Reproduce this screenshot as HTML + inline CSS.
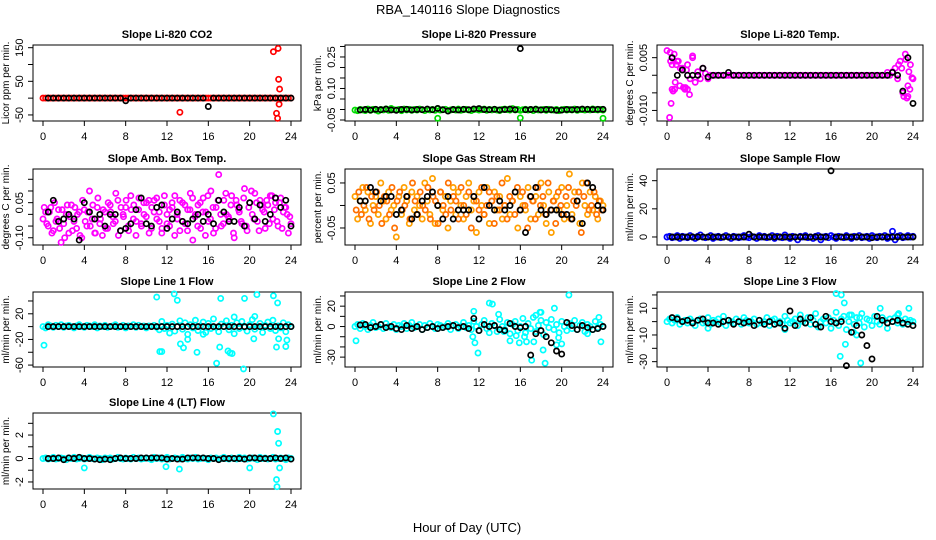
<!DOCTYPE html>
<html><head><meta charset="utf-8">
<style>
html,body{margin:0;padding:0;background:#fff;}
svg{display:block;font-family:"Liberation Sans",sans-serif;}
</style></head>
<body>
<svg id="chart" width="936" height="540" viewBox="0 0 936 540">
<text x="468" y="14" text-anchor="middle" font-size="13">RBA_140116  Slope Diagnostics</text>
<text x="467" y="532" text-anchor="middle" font-size="13">Hour of Day (UTC)</text>
</svg>
<script>
// ---------- data ----------
const xTicks = [0,4,8,12,16,20,24];
// CO2
const co2Red = Array(97).fill(0);
const co2RedOutX = [13.25,22.3,22.75,22.8,22.9,22.85,22.6,22.7];
const co2RedOutY = [-42,138,148,56,27,-18,-45,-60];
const co2Black = [0,0,0,0,0,0,0,0,0,0,0,0,0,0,0,-8,0,0,0,0,0,0,0,0,0,0,0,0,0,0,0,-25,0,0,0,0,0,0,0,0,0,0,0,0,0,0,0,0];
// Pressure
const presGreen = [-0.003,-0.006,0.000,-0.002,-0.005,0.002,-0.004,0.001,-0.003,-0.007,0.000,-0.002,0.003,-0.004,0.005,-0.001,-0.003,0.000,-0.006,0.002,-0.002,0.001,-0.004,0.000,-0.003,0.002,-0.001,-0.005,0.001,-0.002,0.000,-0.004,0.004,-0.003,-0.001,0.001,-0.006,-0.002,0.000,-0.003,0.002,-0.004,-0.001,0.001,-0.002,-0.005,0.000,0.001,-0.003,-0.001,0.002,-0.004,0.000,-0.002,0.001,-0.003,-0.005,0.000,0.002,-0.001,-0.003,0.004,-0.002,0.000,-0.004,-0.001,0.001,-0.003,0.000,-0.005,0.002,-0.002,-0.001,0.000,-0.004,0.001,-0.002,-0.003,0.000,-0.006,-0.001,0.001,-0.003,0.000,-0.002,0.002,-0.004,-0.001,0.000,-0.003,0.001,-0.002,0.003,-0.001,-0.002,0.000,-0.003];
const presGreenOutX = [8,16,24];
const presGreenOutY = [-0.042,-0.040,-0.042];
const presBlack = [-0.002,0.000,-0.003,0.001,-0.001,0.002,-0.002,-0.004,0.000,0.001,-0.002,0.000,-0.001,0.002,-0.001,0.005,-0.001,-0.007,0.000,-0.002,0.001,-0.001,0.003,0.004,0.000,-0.001,0.001,-0.002,0.000,0.002,-0.001,0.29,-0.001,0.000,0.001,-0.002,0.000,-0.001,-0.004,-0.003,0.000,-0.001,0.000,0.002,0.001,0.000,0.001,0.001];
// Li-820 temp
const tempMag = [0.007,-0.012,0.003,-0.004,0.004,-0.003,0.002,-0.004,0.003,-0.001,0.005,-0.002,0.001,-0.001,0.002,0.0005,-0.001,
0,0,0,0,0,0,0,0,0,0,0,0,0,0,0,0,0,0,0,0,0,0,0,0,0,0,0,0,0,0,0,0,0,0,0,0,0,0,0,0,0,0,0,0,0,0,0,0,0,0,0,0,0,0,0,0,0,0,0,0,0,0,0,0,0,0,0,0,0,0,0,
0.001,0.002,-0.001,0.004,-0.005,0.006,-0.006,0.003,-0.001];
const tempMagOutX = [0.3,0.4,0.5,0.7,0.9,1.1,1.3,1.6,1.8,2.0,2.2,2.5,0.35,0.6,22.6,22.9,23.1,23.4,23.6,23.7,23.3,23.5,0.8,1.9,21.5,23.9];
const tempMagOutY = [0.0065,-0.008,-0.004,0.006,0.003,0.004,0.002,-0.0035,-0.0035,-0.004,-0.0055,0.0055,0.004,-0.0045,0.003,0.002,-0.006,-0.0065,0.001,-0.004,0.0045,-0.003,-0.002,0.0015,0.0008,-0.0007];
const tempBlack = [0.005,0,0.0015,0,0,0,0.002,-0.0005,0,0,0,0.0008,0,0,0,0,0,0,0,0,0,0,0,0,0,0,0,0,0,0,0,0,0,0,0,0,0,0,0,0,0,0,0,0.0008,0,-0.0045,0.005,-0.008];
// Amb box temp
const ambMagA = [-0.02,0.01,-0.05,0.03,-0.07,-0.03,0.02,-0.12,-0.04,0.00,-0.08,0.04,-0.03,-0.06,0.01,-0.10,0.02,-0.05,0.10,-0.02,-0.08,0.03,-0.04,-0.09,0.01,-0.06,0.04,-0.01,-0.03,0.06,-0.07,0.00,0.03,-0.05,0.08,-0.02,-0.09,0.02,-0.04,0.05,-0.01,0.06,-0.06,0.01,0.07,-0.03,-0.08,0.04,0.00,-0.05,0.03,0.08,-0.02,-0.07,0.05,-0.04,0.02,0.09,-0.11,0.00,0.04,-0.06,0.07,0.01,-0.03,0.10,-0.08,0.03,0.17,-0.05,0.06,0.00,-0.02,0.08,-0.10,0.04,0.01,-0.04,0.11,-0.07,0.05,0.00,0.09,-0.03,0.06,0.02,-0.06,0.04,0.08,-0.02,0.05,-0.05,0.07,0.01,0.03,-0.08,-0.04];
const ambMagB = [0.03,-0.04,0.01,-0.08,0.05,-0.02,-0.06,0.02,-0.10,0.04,-0.01,-0.07,0.03,0.00,-0.09,0.06,-0.03,0.01,-0.05,0.04,-0.08,0.07,-0.02,0.02,-0.06,0.05,0.01,-0.04,0.09,-0.09,0.03,-0.01,0.06,-0.07,0.02,0.04,-0.03,0.07,-0.05,0.00,0.05,-0.08,0.03,0.06,-0.02,0.01,-0.06,0.08,-0.04,0.02,0.05,-0.09,0.00,0.06,-0.03,0.04,-0.07,0.02,0.07,-0.01,-0.05,0.05,0.01,-0.09,0.08,-0.02,0.03,-0.06,0.06,0.00,-0.04,0.09,-0.01,0.04,-0.08,0.06,0.02,-0.03,0.07,-0.05,0.03,0.10,-0.02,0.05,-0.07,0.04,0.01,0.06,-0.04,0.08,0.02,-0.03,0.05,-0.06,0.03,0.00,-0.01];
const ambBlack = [0.01,0.06,-0.03,-0.02,0.00,-0.02,-0.11,0.05,0.01,-0.02,0.00,-0.05,0.00,0.00,-0.07,-0.06,-0.04,0.02,0.07,-0.04,-0.05,0.03,0.04,-0.06,-0.02,0.01,-0.03,-0.04,-0.02,0.00,-0.03,0.00,-0.04,0.06,0.01,-0.03,-0.03,0.03,-0.05,0.05,-0.02,0.04,-0.03,0.00,0.07,0.03,0.06,-0.05];
// Gas stream RH
const rhOrA = [0.02,-0.03,0.01,0.04,-0.01,0.03,-0.04,0.00,0.02,-0.02,0.05,0.01,-0.03,0.03,-0.01,0.00,-0.07,0.02,-0.02,0.04,0.01,-0.04,0.03,-0.01,0.02,0.00,-0.03,0.05,0.01,-0.02,0.06,-0.04,0.00,0.03,-0.01,0.02,-0.05,0.01,0.04,-0.02,0.03,0.00,-0.03,0.02,0.05,-0.01,0.01,-0.06,0.03,0.00,-0.02,0.04,-0.04,0.01,0.03,-0.01,0.02,-0.03,0.00,0.06,-0.02,0.01,0.03,-0.05,0.02,0.00,-0.01,0.04,-0.03,0.01,0.02,-0.02,0.05,0.00,-0.04,0.03,-0.06,0.01,0.02,-0.01,0.04,-0.03,0.00,0.07,-0.02,0.03,0.01,-0.04,0.05,0.00,-0.02,0.03,-0.01,0.02,-0.03,0.01,0.00];
const rhOrB = [-0.01,0.03,-0.02,0.00,0.04,-0.03,0.02,-0.01,0.03,0.00,-0.04,0.02,0.01,-0.02,0.04,-0.05,0.01,0.03,-0.01,0.00,0.02,-0.03,0.05,0.01,-0.02,0.03,0.00,-0.01,0.04,-0.03,0.02,0.01,-0.04,0.03,0.00,-0.02,0.05,-0.01,0.02,0.01,-0.03,0.04,0.00,-0.02,0.03,-0.05,0.02,0.01,-0.01,0.04,-0.02,0.00,0.03,0.01,-0.04,0.02,-0.01,0.05,0.00,-0.03,0.02,0.01,-0.02,0.04,-0.01,0.03,0.00,-0.05,0.02,0.01,-0.03,0.04,0.00,0.02,-0.02,0.05,-0.01,0.01,-0.04,0.03,0.00,-0.02,0.02,0.04,-0.03,0.01,0.00,0.03,-0.06,0.02,0.05,-0.01,0.00,0.03,-0.02,0.01,-0.01];
const rhBlack = [0.01,0.01,0.04,0.03,0.01,0.02,0.02,-0.02,-0.01,0.02,-0.03,-0.02,0.01,0.02,0.03,0.00,-0.03,0.02,-0.03,-0.01,-0.01,-0.01,0.02,-0.03,0.04,0.00,-0.01,0.01,-0.01,0.00,0.03,-0.01,-0.06,0.02,0.04,-0.01,-0.02,-0.01,-0.01,-0.02,-0.02,-0.03,0.01,-0.04,0.05,0.04,0.00,-0.01];
// Sample flow
const sampBlue = [0,0.5,-0.5,0,1,-1,0.5,0,-0.5,1,0,-1,0.5,1.5,0,-0.5,0,1,-1,0,0.5,-0.5,0,1,0,-1,0.5,0,-0.5,0,1,0,-0.5,0.5,0,-1,1,0,0.5,-0.5,0,1,-1,0.5,0,-0.5,1.5,0,-1,0.5,0,-2,0.5,0,1,-0.5,0,-1,0.5,1,-2,0,0.5,-0.5,1,0,-1,0.5,0,-0.5,1,0,-1,0.5,0,1,-0.5,0,0.5,-1,1,0,-0.5,0.5,0,1,-1,0,4,-2,0.5,1,-0.5,0,1,0,0.5];
const sampBlack = [0,0,0,0,0,0,0,0,0,0,0,0,0,0,0,2,0,0,0,0,0,0,0,0,0,0,0,0,0,0,0,47,0,0,0,0,0,0,0,-0.5,0,0,0,0,0,0,0,0];
// Line 1
const l1Cyan = [0,-2,3,1,-1,2,0,3,-1,1,2,0,-2,1,3,0,-1,2,1,0,3,-2,1,0,2,-1,0,1,3,-1,0,2,-2,1,0,3,-1,2,0,1,-2,1,0,2,-1,
-5,8,-3,2,-10,4,-7,0,9,-4,6,-12,3,-2,10,-6,1,7,-9,5,-3,12,-1,-8,4,0,9,-5,2,-11,6,-3,8,-1,-7,3,11,-4,0,5,-9,2,7,-3,10,-6,1,-2,6,-8,3,0];
const l1CyanOutX = [0.1,11,11.3,11.5,12.7,13,13.3,13.6,14.9,16.8,17.2,17.1,17.9,18.1,18.3,19.4,19.6,19.5,20.5,20.7,20.4,22.3,22.7,22.8,23.5,23.6,22.6,14,15.5,18.5];
const l1CyanOutY = [-29,46,-39,-39,51,41,-27,-33,-40,-57,44,-32,-38,-41,-42,-66,-73,44,16,50,-19,48,37,-19,-31,-21,-32,-20,-12,15];
const l1Black = Array(48).fill(0);
// Line 2
const l2Cyan = [0,2,-2,3,0,-3,1,4,-1,0,2,-2,3,0,-1,2,-3,1,0,3,-2,1,4,-1,0,2,-3,1,-1,3,0,-2,2,1,-1,0,3,-3,1,2,-2,0,4,-1,1,-3,5,0,-4,2,6,-2,-6,3,1,-5,7,0,-3,4,-7,2,5,-4,0,8,-6,3,-2,9,-5,1,6,-8,4,-1,7,-3,2,-6,5,0,-4,3,-2,6,-3,1,4,-5,2,0,-3,5,-1,2,0];
const l2CyanOutX = [0.1,11.5,11.4,11.6,11.9,13,13.3,15,15.6,15.9,16.4,16.6,17.1,17.3,17.5,18,18.2,18.4,19.3,19.5,19.7,20,20.7,22.5,23.6,23.8,17.9,14.4,13.9];
const l2CyanOutY = [-14,15,-10,-16,-26,23,22,-14,-9,-16,-10,-15,-33,-15,11,14,-23,-36,18,-18,-11,-17,31,-7,9,-15,14,-5,12];
const l2Black = [1.5,2,-1,0,2,-1,0,-2,-3,1,-2,0,-3,-1,0,-2,-1,0,1,-1,0,-2,8,-4,2,0,1,-3,-4,3,0,-1,0,-28,-7,-4,-10,-16,-24,-27,4,1,-3,1,-1,-3,-2,0];
// Line 3
const l3Cyan = [0,2,-1,1,3,-2,0,1,-1,2,0,-3,1,2,-1,0,3,-2,1,0,2,-1,4,-3,1,0,-1,2,0,-2,3,1,-1,0,2,-2,1,-1,0,3,-3,1,2,-1,0,-2,4,1,-1,0,2,-3,5,0,-1,3,-2,1,6,-4,0,2,-1,3,-5,1,7,-3,2,4,-6,0,5,-2,3,-1,6,-4,2,1,-3,4,0,-2,3,1,-5,2,0,3,-1,1,-2,2,0,1,0];
const l3CyanOutX = [16.5,17.0,17.3,17.4,16.9,18.9,18.5,20.8,22.6,23.6,22.5,4,17.8,18.2,18.8,11.5];
const l3CyanOutY = [21,20,14,-17,-26,-31,-10,10,6,10,5,-5,5,-8,3,-6];
const l3Black = [3,2,0,1,-1,1,2,-1,-1,-2,0,1,-2,0,-1,0,-3,1,-2,0,-2,-1,-5,8,-3,2,-1,3,-2,-4,4,0,-1,0,-33,-8,-3,-10,-18,-28,4,1,-1,0,1,-1,-2,-3];
// Line 4
const l4Cyan = [0,0.05,-0.05,0,0.1,-0.05,0,0.05,0,-0.1,0.05,0,0.1,-0.05,0,0.05,-0.05,0,0.1,0,-0.05,0.05,0,-0.1,0.05,0,0.05,-0.05,0,0.1,0,-0.05,0.05,0,-0.05,0.1,0,0.05,-0.05,0,0.05,0,-0.1,0.1,0,0.05,-0.05,0,0.1,-0.05,0,0.05,0,-0.05,0.1,0,-0.05,0.05,0,0.1,-0.05,0,0.05,0,-0.1,0.05,0,0.05,-0.05,0,0.1,0,-0.05,0.05,0,-0.05,0.1,0,0.05,-0.05,0,0.05,0,-0.1,0.1,0,0.05,-0.05,0,0.1,-0.05,0,0.05,0,-0.1,0.05,0];
const l4CyanOutX = [4,11.9,13.2,20,22.3,22.7,22.8,22.9,22.6,22.65];
const l4CyanOutY = [-0.8,-0.7,-0.9,-0.8,3.8,2.3,1.3,-0.8,-1.8,-2.4];
const l4Black = [0,0,0.05,-0.1,0.05,0,0.1,0,0,-0.05,-0.1,-0.05,-0.1,0,0.05,0,0,0,0.05,0.05,0.05,0.05,0.05,-0.05,0,-0.05,-0.05,0.05,0.05,0.05,0.05,0,0,-0.1,0,0,0,0,-0.05,0.05,0.05,0,0,0,0.05,0,0.05,-0.05];

// ---------- layout ----------
const NS = "http://www.w3.org/2000/svg";
const svg = document.getElementById("chart");
const cols = [{x0:43,x24:291,l:33,r:301,ax:9,tx:23},{x0:355,x24:603,l:345,r:613,ax:321,tx:335},{x0:667,x24:913,l:657,r:923,ax:633,tx:647}];
const rows = [{t:45,b:121},{t:169,b:245},{t:292,b:367},{t:413,b:489}];

function mk(tag, attrs, parent){const e=document.createElementNS(NS,tag);for(const k in attrs)e.setAttribute(k,attrs[k]);(parent||svg).appendChild(e);return e;}
function gridX(n,a,b){const o=[];for(let i=0;i<n;i++)o.push(a+(b-a)*i/(n-1));return o;}

function panel(ci,ri,opt){
  const c=cols[ci], r=rows[ri];
  const g=mk("g",{});
  
  
  const xs=v=>c.x0+(c.x24-c.x0)*v/24;
  const ys=v=>r.b-(v-opt.ymin)/(opt.ymax-opt.ymin)*(r.b-r.t);
  const box=mk("rect",{x:c.l,y:r.t,width:c.r-c.l,height:r.b-r.t,fill:"none",stroke:"#000","stroke-width":1},g);
  
  
  const tt=mk("text",{x:(c.l+c.r)/2,y:r.t-7,"text-anchor":"middle","font-size":"11","font-weight":"bold"},g);
  tt.textContent=opt.title;
  
  
  const xa=mk("line",{x1:xs(0),x2:xs(24),y1:r.b,y2:r.b,stroke:"#000"},g);
  
  
  xTicks.forEach(v=>{
    mk("line",{x1:xs(v),x2:xs(v),y1:r.b,y2:r.b+5,stroke:"#000"},g);
    const t=mk("text",{x:xs(v),y:r.b+19,"text-anchor":"middle","font-size":"11"},g);
    t.textContent=v;
    
    
  });
  const yt=opt.ticks;
  const ya=mk("line",{x1:c.l,x2:c.l,y1:ys(yt[0]),y2:ys(yt[yt.length-1]),stroke:"#000"},g);
  
  
  yt.forEach(v=>{
    mk("line",{x1:c.l-5,x2:c.l,y1:ys(v),y2:ys(v),stroke:"#000"},g);
  });
  opt.labels.forEach((lab,i)=>{
    const y=ys(opt.labelVals[i]);
    const t=mk("text",{x:c.tx,y:y,"text-anchor":"middle","font-size":"11",transform:`rotate(-90 ${c.tx} ${y})`},g);
    t.textContent=lab;
    
    
  });
  const ymid=(r.t+r.b)/2;
  const at=mk("text",{x:c.ax,y:ymid,"text-anchor":"middle","font-size":"10",transform:`rotate(-90 ${c.ax} ${ymid})`},g);
  at.textContent=opt.ytitle;
  
  
  opt.series.forEach(s=>{
    const sg=mk("g",{fill:"none",stroke:s.color,"stroke-width":1.7},g);
    
    
    s.y.forEach((v,i)=>{
      const cy=ys(v); if(cy<r.t-3||cy>r.b+3) return;
      const p=mk("circle",{cx:xs(s.x[i]).toFixed(1),cy:cy.toFixed(1),r:2.6},sg);
      
      
    });
  });
}
const bx=gridX(48,0.5,24), gx97=gridX(97,0,24), gx97b=gridX(97,0.12,23.88);

panel(0,0,{name:"co2",title:"Slope Li-820 CO2",ytitle:"Licor ppm per min.",ymin:-68,ymax:158,ticks:[-50,0,50,100,150],labels:["-50","50","150"],labelVals:[-50,50,150],
 series:[{name:"red-series",color:"#ff0000",x:gx97,y:co2Red},{name:"red-outliers",color:"#ff0000",x:co2RedOutX,y:co2RedOutY},{name:"black-series",color:"#000",x:bx,y:co2Black}]});
panel(1,0,{name:"pressure",title:"Slope Li-820 Pressure",ytitle:"kPa per min.",ymin:-0.0548,ymax:0.307,ticks:[-0.05,0,0.05,0.10,0.15,0.20,0.25,0.30],labels:["-0.05","0.10","0.25"],labelVals:[-0.05,0.10,0.25],
 series:[{name:"green-series",color:"#00dd00",x:gx97,y:presGreen},{name:"green-outliers",color:"#00dd00",x:presGreenOutX,y:presGreenOutY},{name:"black-series",color:"#000",x:bx,y:presBlack}]});
panel(2,0,{name:"li-temp",title:"Slope Li-820 Temp.",ytitle:"degrees C per min.",ymin:-0.013,ymax:0.0086,ticks:[-0.010,-0.005,0,0.005],labels:["-0.010","0.005"],labelVals:[-0.010,0.005],
 series:[{name:"magenta-series",color:"#ff00ff",x:gx97,y:tempMag},{name:"magenta-outliers",color:"#ff00ff",x:tempMagOutX,y:tempMagOutY},{name:"black-series",color:"#000",x:bx,y:tempBlack}]});
panel(0,1,{name:"amb-box-temp",title:"Slope Amb. Box Temp.",ytitle:"degrees C per min.",ymin:-0.131,ymax:0.194,ticks:[-0.10,-0.05,0,0.05,0.10,0.15],labels:["-0.10","0.05"],labelVals:[-0.10,0.05],
 series:[{name:"magenta-series-a",color:"#ff00ff",x:gx97,y:ambMagA},{name:"magenta-series-b",color:"#ff00ff",x:gx97b,y:ambMagB},{name:"black-series",color:"#000",x:bx,y:ambBlack}]});
panel(1,1,{name:"gas-rh",title:"Slope Gas Stream RH",ytitle:"percent per min.",ymin:-0.0878,ymax:0.081,ticks:[-0.05,0,0.05],labels:["-0.05","0.05"],labelVals:[-0.05,0.05],
 series:[{name:"orange-series-a",color:"#ffa000",x:gx97,y:rhOrA},{name:"orange-series-b",color:"#ff7000",x:gx97b,y:rhOrB},{name:"black-series",color:"#000",x:bx,y:rhBlack}]});
panel(2,1,{name:"sample-flow",title:"Slope Sample Flow",ytitle:"ml/min per min.",ymin:-5.7,ymax:48.3,ticks:[0,20,40],labels:["0","20","40"],labelVals:[0,20,40],
 series:[{name:"blue-series",color:"#0000ff",x:gx97,y:sampBlue},{name:"black-series",color:"#000",x:bx,y:sampBlack}]});
panel(0,2,{name:"line1-flow",title:"Slope Line 1 Flow",ytitle:"ml/min per min.",ymin:-63,ymax:54,ticks:[-60,-40,-20,0,20,40],labels:["-60","-20","20"],labelVals:[-60,-20,20],
 series:[{name:"cyan-series",color:"#00ffff",x:gx97,y:l1Cyan},{name:"cyan-outliers",color:"#00ffff",x:l1CyanOutX,y:l1CyanOutY},{name:"black-series",color:"#000",x:bx,y:l1Black}]});
panel(1,2,{name:"line2-flow",title:"Slope Line 2 Flow",ytitle:"ml/min per min.",ymin:-39.7,ymax:33.9,ticks:[-30,-20,-10,0,10,20,30],labels:["-30","0","20"],labelVals:[-30,0,20],
 series:[{name:"cyan-series",color:"#00ffff",x:gx97,y:l2Cyan},{name:"cyan-outliers",color:"#00ffff",x:l2CyanOutX,y:l2CyanOutY},{name:"black-series",color:"#000",x:bx,y:l2Black}]});
panel(2,2,{name:"line3-flow",title:"Slope Line 3 Flow",ytitle:"ml/min per min.",ymin:-34,ymax:22.2,ticks:[-30,-20,-10,0,10,20],labels:["-30","-10","10"],labelVals:[-30,-10,10],
 series:[{name:"cyan-series",color:"#00ffff",x:gx97,y:l3Cyan},{name:"cyan-outliers",color:"#00ffff",x:l3CyanOutX,y:l3CyanOutY},{name:"black-series",color:"#000",x:bx,y:l3Black}]});
panel(0,3,{name:"line4-flow",title:"Slope Line 4 (LT) Flow",ytitle:"ml/min per min.",ymin:-2.6,ymax:3.88,ticks:[-2,-1,0,1,2,3],labels:["-2","0","2"],labelVals:[-2,0,2],
 series:[{name:"cyan-series",color:"#00ffff",x:gx97,y:l4Cyan},{name:"cyan-outliers",color:"#00ffff",x:l4CyanOutX,y:l4CyanOutY},{name:"black-series",color:"#000",x:bx,y:l4Black}]});
</script>
</body></html>
